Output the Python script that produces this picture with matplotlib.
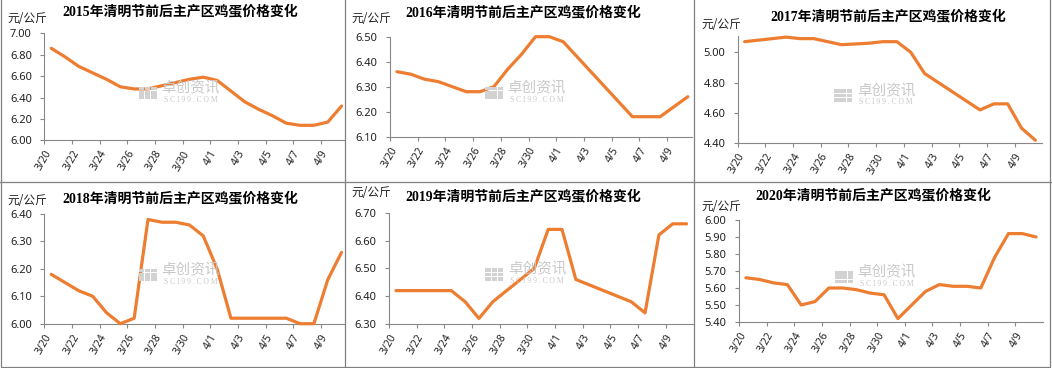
import matplotlib.pyplot as plt
from matplotlib.patches import Rectangle
from matplotlib.lines import Line2D
import numpy as np

plt.rcParams['font.family'] = ['Noto Sans', 'Noto Sans CJK SC']

W, H = 1052, 368

DATES = ['3/20', '3/21', '3/22', '3/23', '3/24', '3/25', '3/26', '3/27',
         '3/28', '3/29', '3/30', '3/31', '4/1', '4/2', '4/3', '4/4', '4/5',
         '4/6', '4/7', '4/8', '4/9', '4/10']

Y2015 = [6.86, 6.78, 6.69, 6.63, 6.57, 6.50, 6.48, 6.48, 6.51, 6.54, 6.57,
         6.59, 6.56, 6.46, 6.36, 6.29, 6.23, 6.16, 6.14, 6.14, 6.17, 6.32]
Y2016 = [6.36, 6.35, 6.33, 6.32, 6.30, 6.28, 6.28, 6.30, 6.37, 6.43, 6.50,
         6.50, 6.48, 6.42, 6.36, 6.30, 6.24, 6.18, 6.18, 6.18, 6.22, 6.26]
Y2017 = [5.07, 5.08, 5.09, 5.10, 5.09, 5.09, 5.07, 5.05, 5.055, 5.06, 5.07,
         5.07, 5.00, 4.86, 4.80, 4.74, 4.68, 4.62, 4.66, 4.66, 4.50, 4.42]
Y2018 = [6.18, 6.15, 6.12, 6.10, 6.04, 6.00, 6.02, 6.38, 6.37, 6.37, 6.36,
         6.32, 6.20, 6.02, 6.02, 6.02, 6.02, 6.02, 6.00, 6.00, 6.16, 6.26]
Y2019 = [6.42, 6.42, 6.42, 6.42, 6.42, 6.38, 6.32, 6.38, 6.42, 6.46, 6.50,
         6.64, 6.64, 6.46, 6.44, 6.42, 6.40, 6.38, 6.34, 6.62, 6.66, 6.66]
Y2020 = [5.66, 5.65, 5.63, 5.62, 5.50, 5.52, 5.60, 5.60, 5.59, 5.57, 5.56,
         5.42, 5.50, 5.58, 5.62, 5.61, 5.61, 5.60, 5.78, 5.92, 5.92, 5.90]

YEARS = [2015, 2016, 2017, 2018, 2019, 2020]
SERIES = [Y2015, Y2016, Y2017, Y2018, Y2019, Y2020]
YTICKS = [
    [6.0, 6.2, 6.4, 6.6, 6.8, 7.0],
    [6.1, 6.2, 6.3, 6.4, 6.5],
    [4.4, 4.6, 4.8, 5.0],
    [6.0, 6.1, 6.2, 6.3, 6.4],
    [6.3, 6.4, 6.5, 6.6, 6.7],
    [5.4, 5.5, 5.6, 5.7, 5.8, 5.9, 6.0],
]
YLIMS = [(6.0, 7.0), (6.1, 6.5), (4.4, 5.11), (6.0, 6.4), (6.3, 6.7), (5.4, 6.0)]

# pixel layout: (left, top, right, bottom), xmax, title xy, unit xy
BOXES = [(44.3, 33.3, 345, 140.3), (390, 36.7, 692, 136.7),
         (737.7, 35.6, 1042.3, 143.3), (44.3, 214, 345, 323.7),
         (389, 212.7, 693.5, 324), (739, 220, 1043, 322)]
XMAX = [21.75, 21.8, 22, 21.75, 22, 22]
TITLE_XY = [(180, 11), (523, 12), (888, 16), (180, 198), (523, 196), (873, 195)]
UNIT_XY = [(7, 18), (351, 18), (701, 24), (7, 200), (351, 192), (701, 206)]

ORANGE = '#ED7D31'
AXCOL = '#888888'
WMCOL = '#c8c8c8'


def fx(x):
    return x / W


def fy(y):
    return 1 - y / H


fig = plt.figure(figsize=(W / 100, H / 100), dpi=100)

x = np.arange(len(DATES)) + 0.5
for k in range(6):
    l, t, r, b = BOXES[k]
    ax = fig.add_axes([fx(l), fy(b), fx(r) - fx(l), (b - t) / H])
    ax.patch.set_alpha(0)

    # watermark
    cx = (l + r) / 2 - 4
    cy = (t + b) / 2 + 4
    fig.text(fx(cx), fy(cy + 4.5), '卓创资讯', fontsize=10.5, color=WMCOL,
             ha='center', va='bottom', family=['Noto Sans CJK SC'])
    fig.text(fx(cx), fy(cy + 5), 'S C I 9 9 . C O M', fontsize=5.5, color=WMCOL,
             ha='center', va='top', family=['Liberation Serif'])
    for i in range(3):
        for j in range(3):
            fig.patches.append(Rectangle(
                (fx(cx - 52 + i * 6.3), fy(cy - 4 + j * 4.3 + 3.6)), 5.5 / W, 3.6 / H,
                transform=fig.transFigure, color='#d2d2d2', lw=0))

    ax.plot(x, SERIES[k], color=ORANGE, lw=2.3, clip_on=False,
            solid_joinstyle='round', solid_capstyle='round', zorder=3)

    ax.set_xlim(0, XMAX[k])
    ax.set_ylim(*YLIMS[k])
    ax.set_yticks(YTICKS[k])
    ax.set_yticklabels([f'{v:.2f}' for v in YTICKS[k]])
    ax.set_xticks(np.arange(0, 22, 2))
    ax.set_xticklabels(DATES[::2], rotation=60, ha='right', va='top',
                       rotation_mode='anchor')
    ax.tick_params(axis='y', length=3, width=0.8, color=AXCOL, pad=6,
                   labelsize=8, labelcolor='#222222')
    ax.tick_params(axis='x', length=3, width=0.8, color=AXCOL, pad=3,
                   labelsize=7.5, labelcolor='#222222')
    for s in ['top', 'right']:
        ax.spines[s].set_visible(False)
    for s in ['left', 'bottom']:
        ax.spines[s].set_color(AXCOL)
        ax.spines[s].set_linewidth(0.8)

    tx, ty = TITLE_XY[k]
    fig.text(fx(tx), fy(ty), f'{YEARS[k]}年清明节前后主产区鸡蛋价格变化',
             fontsize=10, fontweight='bold', ha='center', va='center',
             family=['Liberation Serif', 'Noto Sans CJK SC'])
    ux, uy = UNIT_XY[k]
    fig.text(fx(ux), fy(uy), '元/公斤', fontsize=8.5, ha='left', va='center',
             color='#222222', family=['Noto Sans CJK SC'])

# panel borders
BORDER = '#808080'
for xx in [345, 694.3]:
    fig.lines.append(Line2D([fx(xx), fx(xx)], [0, 1], transform=fig.transFigure,
                            color=BORDER, lw=0.9))
fig.lines.append(Line2D([0, 1], [fy(182.3), fy(182.3)], transform=fig.transFigure,
                        color=BORDER, lw=0.9))
fig.lines.append(Line2D([fx(1.2), fx(1.2), fx(1050.3), fx(1050.3)],
                        [1, fy(366.5), fy(366.5), 1],
                        transform=fig.transFigure, color=BORDER, lw=0.9))

fig.savefig('out.png', dpi=100)
